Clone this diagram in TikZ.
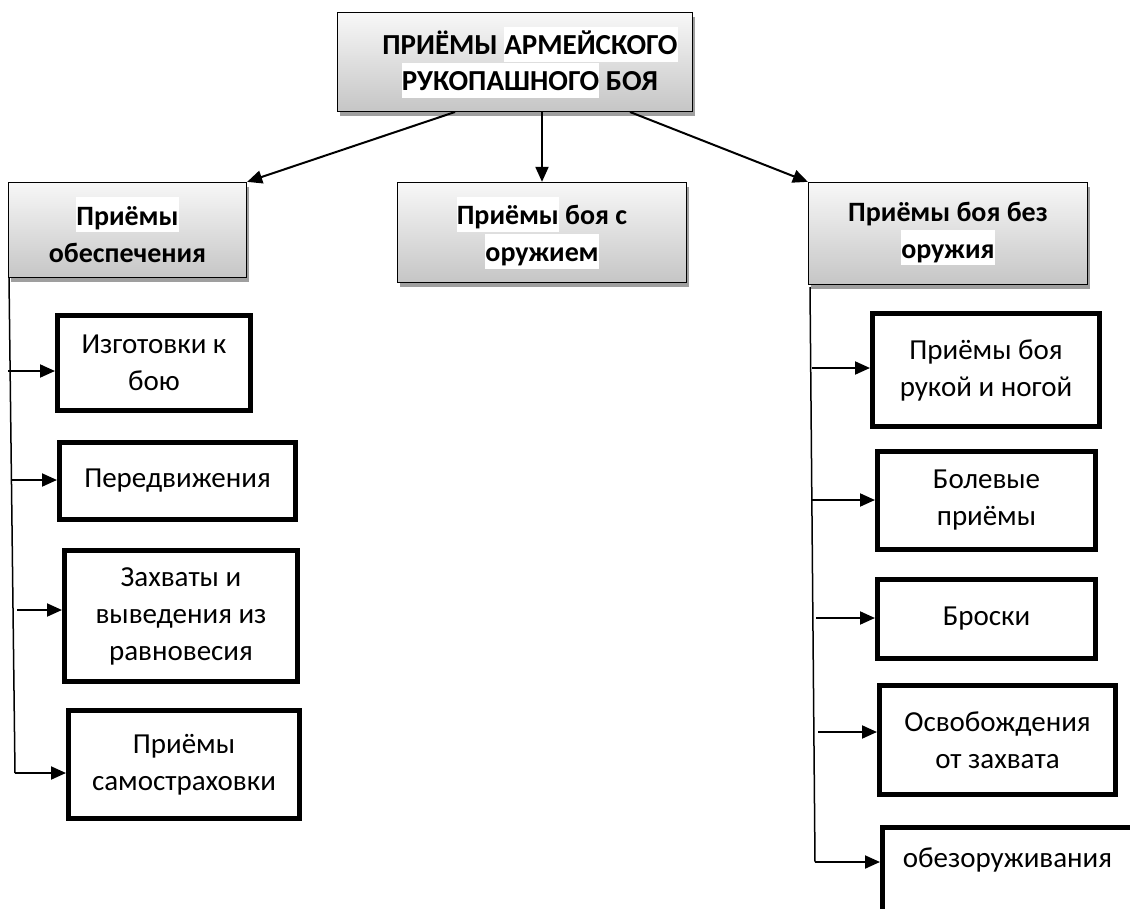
\documentclass[tikz,border=0pt]{standalone}
\usepackage{fontspec}
\setmainfont{Carlito}
\usetikzlibrary{arrows.meta,shadows}
\newcommand\hlw[1]{{\setlength{\fboxsep}{0pt}\colorbox{white}{\rule[-7pt]{0pt}{35pt}#1}}}

\begin{document}
\begin{tikzpicture}[x=1pt,y=-1pt,
		head/.style={draw,line width=1.3pt,top color=gray!6,bottom color=gray!45,
			drop shadow={shadow xshift=2pt,shadow yshift=-4pt,fill=gray!75,opacity=1},
			align=center,inner sep=0pt,font=\bfseries\fontsize{28}{37}\selectfont},
		kid/.style={draw,line width=5pt,fill=white,align=center,inner sep=0pt,
			font=\fontsize{29}{37}\selectfont},
		link/.style={line width=2pt,-{Triangle[length=15pt,width=13pt]}},
		trunk/.style={line width=1.5pt}]
	\clip (0,0) rectangle (1130,908);
	% top and second level
	\node[head,minimum width=355pt,minimum height=99pt,font=\bfseries\fontsize{29}{36}\selectfont]
		(boj) at (515,62) {\hspace*{30pt}ПРИЁМЫ \hlw{АРМЕЙСКОГО}\\\hspace*{30pt}\hlw{РУКОПАШНОГО} БОЯ};
	\node[head,minimum width=238pt,minimum height=95pt] (obesp) at (127.5,230) {\hlw{Приёмы}\\обеспечения};
	\node[head,minimum width=289pt,minimum height=100pt] (sorug) at (542,232.5) {\hlw{Приёмы} боя с\\\hlw{оружием}};
	\node[head,minimum width=279pt,minimum height=102pt] (bezorug) at (948,233.5) {Приёмы боя без\\\hlw{оружия}};
	\coordinate (bl) at (455,112);
	\coordinate (br) at (630,112);
	\draw[link] (bl) -- (obesp.north east);
	\draw[link] (boj.south-|sorug) -- (sorug.north);
	\draw[link] (br) -- (bezorug.north west);
	% left branch
	\node[kid,minimum width=193pt,minimum height=95pt] (izg) at (154,363) {Изготовки к\\бою};
	\node[kid,minimum width=236pt,minimum height=77pt] (pered) at (177.5,481) {Передвижения};
	\node[kid,minimum width=233pt,minimum height=131pt] (zahv) at (181,616) {Захваты и\\выведения из\\равновесия};
	\node[kid,minimum width=231pt,minimum height=108pt] (samo) at (184,764.5) {Приёмы\\самостраховки};
	\coordinate (lt) at (9,278);
	\coordinate (lb) at (15,773);
	\draw[trunk] (lt) -- (lb);
	\coordinate (l1) at (8,371);
	\coordinate (l2) at (12,480);
	\coordinate (l3) at (17,610);
	\draw[link] (l1) -- (l1-|izg.west);
	\draw[link] (l2) -- (l2-|pered.west);
	\draw[link] (l3) -- (l3-|zahv.west);
	\draw[link] (lb) -- (lb-|samo.west);
	% right branch
	\node[kid,minimum width=227pt,minimum height=113pt] (ruk) at (986,370) {Приёмы боя\\рукой и ногой};
	\node[kid,minimum width=218pt,minimum height=98pt] (bol) at (986.5,500.5) {Болевые\\приёмы};
	\node[kid,minimum width=218pt,minimum height=79pt] (brosk) at (986.5,619) {Броски};
	\node[kid,minimum width=236pt,minimum height=109pt] (osvob) at (997.5,740) {Освобождения\\от захвата};
	\node[kid,anchor=north west,minimum width=250pt,
		text height=40pt,text depth=100pt] (obez) at (880,825) {обезоруживания};
	\coordinate (rt) at (810,287);
	\coordinate (rb) at (815,862);
	\draw[trunk] (rt) -- (rb);
	\coordinate (r1) at (812,368);
	\coordinate (r2) at (812,500);
	\coordinate (r3) at (816,618);
	\coordinate (r4) at (818,732);
	\draw[link] (r1) -- (r1-|ruk.west);
	\draw[link] (r2) -- (r2-|bol.west);
	\draw[link] (r3) -- (r3-|brosk.west);
	\draw[link] (r4) -- (r4-|osvob.west);
	\draw[link] (rb) -- (rb-|obez.west);
\end{tikzpicture}
\end{document}
